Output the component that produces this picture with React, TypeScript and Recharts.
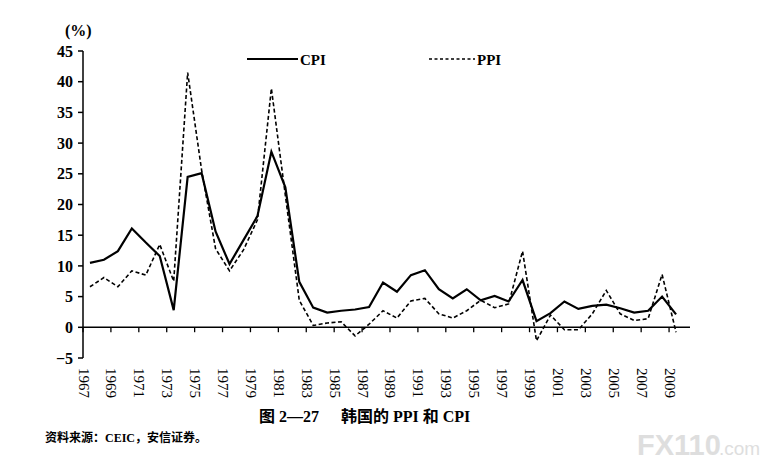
import { LineChart, Line, XAxis, YAxis, ReferenceLine } from "recharts"

// annual data, 1967-2009 (%)
const YEARS = [
	1967, 1968, 1969, 1970, 1971, 1972, 1973, 1974, 1975, 1976, 1977, 1978, 1979, 1980, 1981,
	1982, 1983, 1984, 1985, 1986, 1987, 1988, 1989, 1990, 1991, 1992, 1993, 1994, 1995, 1996,
	1997, 1998, 1999, 2000, 2001, 2002, 2003, 2004, 2005, 2006, 2007, 2008, 2009
]

const CPI = [
	10.5, 11.0, 12.4, 16.1, 13.8, 11.6, 2.8, 24.5, 25.1, 15.6, 10.3, 14.2, 18.1, 28.6, 22.8,
	7.4, 3.2, 2.4, 2.7, 2.9, 3.3, 7.3, 5.8, 8.5, 9.3, 6.2, 4.7, 6.2, 4.4, 5.1,
	4.2, 7.7, 1.0, 2.3, 4.2, 3.0, 3.5, 3.7, 3.1, 2.4, 2.7, 5.0, 2.1
]

const PPI = [
	6.6, 8.1, 6.6, 9.2, 8.5, 13.5, 7.5, 41.5, 25.6, 12.8, 9.2, 12.6, 17.5, 38.9, 21.5,
	4.4, 0.3, 0.7, 0.9, -1.4, 0.5, 2.7, 1.5, 4.3, 4.7, 2.2, 1.5, 2.7, 4.4, 3.2,
	3.8, 12.4, -2.2, 2.0, -0.4, -0.4, 2.2, 6.0, 2.2, 1.1, 1.4, 8.6, -0.8
]

const Y_TICKS = [-5, 0, 5, 10, 15, 20, 25, 30, 35, 40, 45]
// ticks sit between the year categories, labelled with the following year
const X_TICKS = [
	1966.5, 1968.5, 1970.5, 1972.5, 1974.5, 1976.5, 1978.5, 1980.5, 1982.5, 1984.5, 1986.5,
	1988.5, 1990.5, 1992.5, 1994.5, 1996.5, 1998.5, 2000.5, 2002.5, 2004.5, 2006.5, 2008.5
]

const chartData = YEARS.map((year, i) => ({ year, cpi: CPI[i], ppi: PPI[i] }))

const SERIF = '"Liberation Serif", "Noto Sans CJK SC", serif'

function YearTick(props: any) {
	const { x, y, payload } = props
	return (
		<text
			x={x}
			y={y}
			transform={`rotate(90 ${x} ${y})`}
			dy="0.3em"
			textAnchor="start"
			fill="#000"
			fontSize={15}
			fontFamily={SERIF}
		>
			{payload.value + 0.5}
		</text>
	)
}

export default function App() {
	return (
		<div style={{ position: "absolute", left: 0, top: 0, width: 767, height: 468, background: "#fff" }}>
			<LineChart width={767} height={468} data={chartData} margin={{ top: 51, right: 77, left: 0, bottom: 0 }}>
				<XAxis
					dataKey="year"
					type="number"
					domain={[1966.5, 2010]}
					ticks={X_TICKS}
					interval={0}
					height={110}
					axisLine={false}
					tickLine={false}
					tickSize={0}
					tickMargin={10}
					tick={<YearTick />}
				/>
				<YAxis
					domain={[-5, 45]}
					ticks={Y_TICKS}
					interval={0}
					width={83}
					axisLine={{ stroke: "#000", strokeWidth: 1.5 }}
					tickLine={{ stroke: "#000", strokeWidth: 1.5 }}
					tickSize={5}
					tickMargin={5}
					tickFormatter={(v: number) => (v < 0 ? `\u2212${-v}` : `${v}`)}
					tick={{ fill: "#000", fontSize: 16, fontWeight: "bold", fontFamily: SERIF }}
				/>
				<ReferenceLine y={0} stroke="#000" strokeWidth={1.6} />
				{X_TICKS.map((t) => (
					<ReferenceLine
						key={t}
						segment={[
							{ x: t, y: 0 },
							{ x: t, y: -0.8 }
						]}
						stroke="#000"
						strokeWidth={1.3}
					/>
				))}
				<Line
					type="linear"
					dataKey="ppi"
					stroke="#000"
					strokeWidth={1.6}
					strokeDasharray="4 2.5"
					dot={false}
					isAnimationActive={false}
				/>
				<Line type="linear" dataKey="cpi" stroke="#000" strokeWidth={2.2} dot={false} isAnimationActive={false} />
			</LineChart>

			<svg width={767} height={468} style={{ position: "absolute", left: 0, top: 0, pointerEvents: "none" }}>
				<text x={65} y={36} fontFamily={SERIF} fontWeight="bold" fontSize={16} fill="#000">
					(%)
				</text>

				{/* legend */}
				<line x1={247} y1={59} x2={298} y2={59} stroke="#000" strokeWidth={2.2} />
				<text x={300} y={65} fontFamily={SERIF} fontWeight="bold" fontSize={15} fill="#000">
					CPI
				</text>
				<line x1={429} y1={59} x2={475} y2={59} stroke="#000" strokeWidth={1.4} strokeDasharray="3 2.5" />
				<text x={477} y={65} fontFamily={SERIF} fontWeight="bold" fontSize={15} fill="#000">
					PPI
				</text>

				<text x={259} y={422} fontFamily={SERIF} fontWeight="bold" fontSize={16} fill="#000">
					图 2—27
				</text>
				<text x={341} y={422} fontFamily={SERIF} fontWeight="bold" fontSize={16} fill="#000" style={{ whiteSpace: "pre" }}>
					{"韩国的 PPI 和 CPI"}
				</text>
				<text x={45} y={442} fontFamily={SERIF} fontWeight="bold" fontSize={12} fill="#000">
					资料来源：CEIC，安信证券。
				</text>

				{/* watermark */}
				<text x={637} y={455} fontFamily='"Liberation Sans", sans-serif' fontWeight="bold" fontSize={29} fill="#dedede">
					FX110
				</text>
				<text x={719} y={455} fontFamily='"Liberation Sans", sans-serif' fontSize={19} fill="#dedede">
					.com
				</text>
			</svg>
		</div>
	)
}
